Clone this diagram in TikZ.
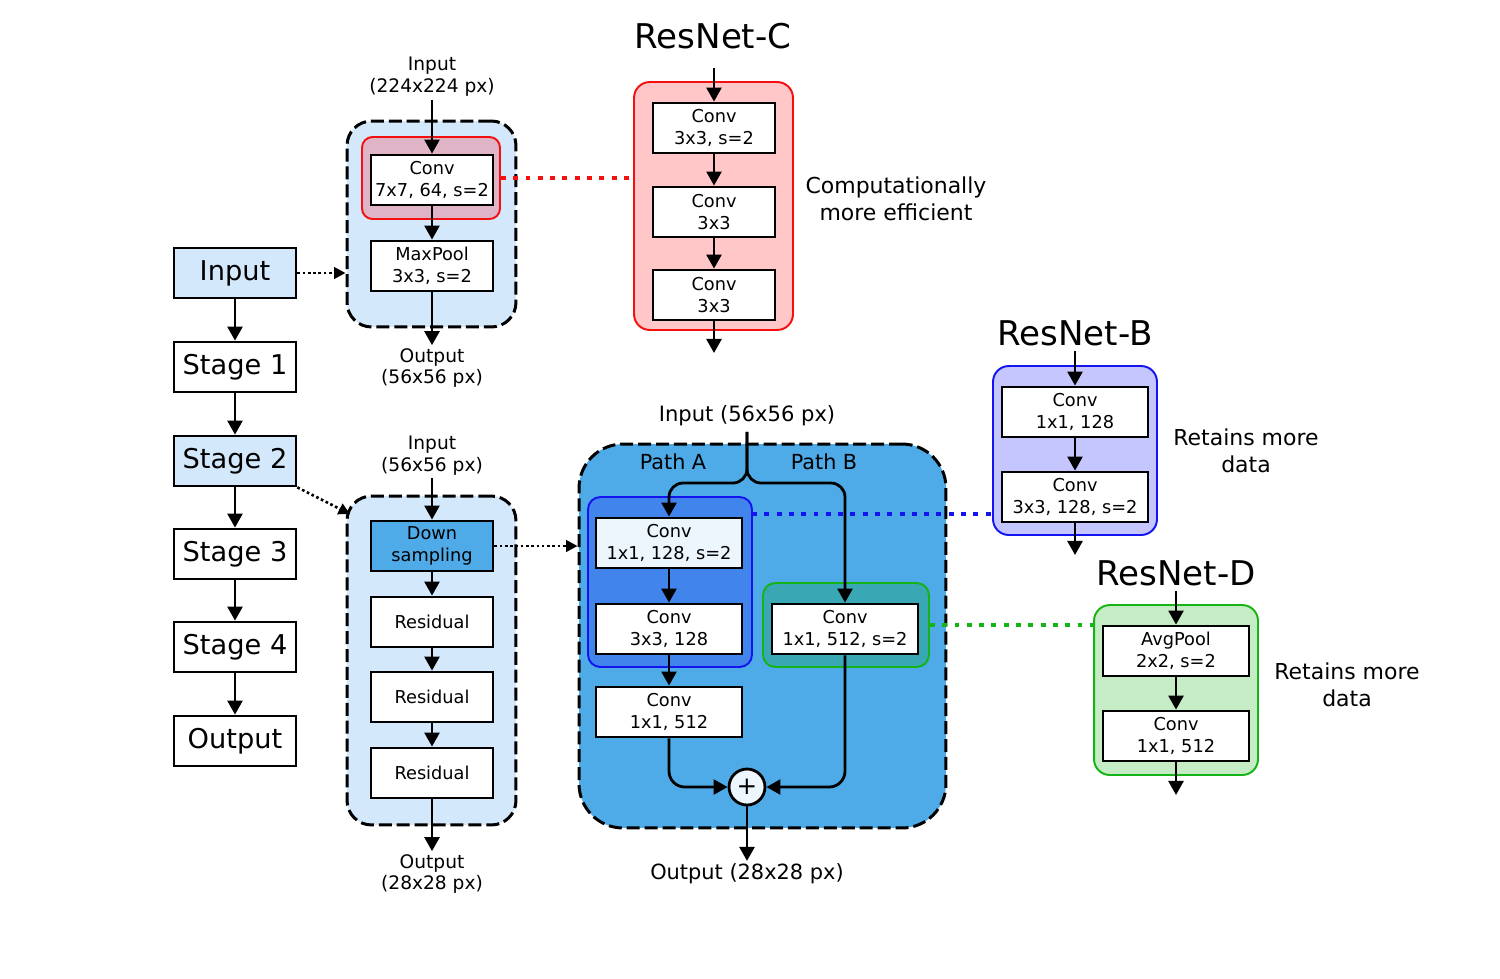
\documentclass[tikz,border=0pt]{standalone}
\usepackage{fontspec}
\setmainfont{DejaVu Sans}
\usetikzlibrary{arrows.meta}

\definecolor{stagefill}{RGB}{212,232,252}
\definecolor{pinkfill}{RGB}{222,180,198}
\definecolor{cfill}{RGB}{255,199,199}
\definecolor{midblue}{RGB}{78,171,231}
\definecolor{agrpfill}{RGB}{64,132,236}
\definecolor{dgrpfill}{RGB}{58,168,180}
\definecolor{lightfill}{RGB}{238,246,253}
\definecolor{bbfill}{RGB}{198,198,255}
\definecolor{ddfill}{RGB}{198,236,198}
\definecolor{redline}{RGB}{245,15,15}
\definecolor{blueline}{RGB}{20,20,240}
\definecolor{greenline}{RGB}{20,180,20}

\tikzset{
  blk/.style={draw, line width=1.6pt, fill=white, minimum width=2.44cm, minimum height=1cm,
    inner sep=0pt, align=center, font=\fontsize{10.1}{12.4}\selectfont},
  wide/.style={blk, minimum width=2.92cm},
  stage/.style={blk, font=\fontsize{15.5}{18}\selectfont},
  grp/.style={draw, line width=1.1pt, rounded corners=6pt, inner sep=0pt},
  dgroup/.style={draw, line width=1.7pt, dash pattern=on 7.4pt off 2.8pt, rounded corners=14pt, inner sep=0pt},
  arr/.style={-{Triangle[length=8pt,width=8.5pt]}, line width=1.6pt},
  dotarr/.style={-{Triangle[length=6.5pt,width=6.5pt]}, line width=1.5pt, dash pattern=on 1.5pt off 1.5pt},
  link/.style={line width=2.8pt, dash pattern=on 2.8pt off 4.2pt},
  lbl/.style={align=center, inner sep=1.5pt, font=\fontsize{10.6}{12.5}\selectfont},
  ttl/.style={inner sep=3pt, font=\fontsize{19.4}{22}\selectfont},
  note/.style={align=center, font=\fontsize{12.5}{15.4}\selectfont},
  plus/.style={circle, draw, line width=1.6pt, fill=lightfill, minimum size=0.72cm, inner sep=0pt,
    font=\fontsize{14}{14}\selectfont},
}

\begin{document}
\begin{tikzpicture}[x=0.02cm, y=-0.02cm]
\useasboundingbox (0,0) rectangle (1500,978);

% stages
\node[stage, fill=stagefill] (in) at (235,273) {Input};
\node[stage] (s1) at (235,367) {Stage 1};
\node[stage, fill=stagefill] (s2) at (235,461) {Stage 2};
\node[stage] (s3) at (235,554) {Stage 3};
\node[stage] (s4) at (235,647) {Stage 4};
\node[stage] (out) at (235,741) {Output};
\foreach \a/\b in {in/s1, s1/s2, s2/s3, s3/s4, s4/out}
  \draw[arr] (\a) -- (\b);

% stem
\node[dgroup, fill=stagefill, minimum width=3.38cm, minimum height=4.12cm] (stem) at (431.5,224) {};
\node[grp, draw=redline, fill=pinkfill, minimum width=2.76cm, minimum height=1.64cm] (stemc) at (431,178) {};
\node[blk] (c7) at (432,180) {Conv\\7x7, 64, s=2};
\node[blk] (mp) at (432,266) {MaxPool\\3x3, s=2};
\node[lbl] (stemin) at (432,77) {Input\\(224x224 px)};
\node[lbl] (stemout) at (432,368) {Output\\(56x56 px)};
\draw[arr] (stemin) -- (c7);
\draw[arr] (c7) -- (mp);
\draw[arr] (mp) -- (stemout);

% ResNet-C
\node[ttl] (ttlc) at (713,36) {ResNet-C};
\node[grp, draw=redline, fill=cfill, minimum width=3.18cm, minimum height=4.96cm, rounded corners=9pt] (cgrp) at (713.5,206) {};
\node[blk] (cc1) at (714,128) {Conv\\3x3, s=2};
\node[blk] (cc2) at (714,212) {Conv\\3x3};
\node[blk] (cc3) at (714,295) {Conv\\3x3};
\coordinate (cin) at (714,68);
\coordinate (cout) at (714,353);
\draw[arr] (cin) -- (cc1);
\draw[arr] (cc1) -- (cc2);
\draw[arr] (cc2) -- (cc3);
\draw[arr] (cc3) -- (cout);
\node[note] (cnote) at (896,199) {Computationally\\ more efficient};

% stage 2
\node[dgroup, fill=stagefill, minimum width=3.38cm, minimum height=6.58cm] (s2grp) at (431.5,660.5) {};
\node[blk, fill=midblue] (ds) at (432,546) {Down\\sampling};
\node[blk] (r1) at (432,622) {Residual};
\node[blk] (r2) at (432,697) {Residual};
\node[blk] (r3) at (432,773) {Residual};
\node[lbl] (s2in) at (432,455.5) {Input\\(56x56 px)};
\node[lbl] (s2out) at (432,874) {Output\\(28x28 px)};
\foreach \a/\b in {s2in/ds, ds/r1, r1/r2, r2/r3, r3/s2out}
  \draw[arr] (\a) -- (\b);

% bottleneck
\node[dgroup, fill=midblue, minimum width=7.34cm, minimum height=7.68cm, rounded corners=25pt] (bgrp) at (762.5,636) {};
\node[lbl, font=\fontsize{12}{13}\selectfont, inner sep=3pt] (bin) at (747,416) {Input (56x56 px)};
\node[lbl, font=\fontsize{11.8}{13}\selectfont] (pa) at (673,462) {Path A};
\node[lbl, font=\fontsize{11.8}{13}\selectfont] (pb) at (824,462) {Path B};
\node[grp, draw=blueline, fill=agrpfill, minimum width=3.28cm, minimum height=3.4cm, rounded corners=7pt] (agrp) at (670,582) {};
\node[grp, draw=greenline, fill=dgrpfill, minimum width=3.32cm, minimum height=1.68cm, rounded corners=7pt] (dgrp) at (846,625) {};
\node[wide, fill=lightfill] (a1) at (669,543) {Conv\\1x1, 128, s=2};
\node[wide] (a2) at (669,629) {Conv\\3x3, 128};
\node[wide] (a3) at (669,712) {Conv\\1x1, 512};
\node[wide] (b1) at (845,629) {Conv\\1x1, 512, s=2};
\node[plus] (add) at (747,787) {+};
\node[lbl, font=\fontsize{11.9}{13}\selectfont] (bout) at (747,874) {Output (28x28 px)};
\coordinate (split) at (747,483);
\draw[arr, rounded corners=8pt] (bin) -- (split) -| (a1);
\draw[arr, rounded corners=8pt] (bin) -- (split) -| (b1);
\draw[arr] (a1) -- (a2);
\draw[arr] (a2) -- (a3);
\draw[arr, rounded corners=9pt] (a3) |- (add);
\draw[arr, rounded corners=9pt] (b1) |- (add);
\draw[arr] (add) -- (bout);

% ResNet-B
\node[ttl] (ttlb) at (1075,333) {ResNet-B};
\node[grp, draw=blueline, fill=bbfill, minimum width=3.28cm, minimum height=3.38cm, rounded corners=9pt] (bbgrp) at (1075,450.5) {};
\node[wide] (bb1) at (1075,412) {Conv\\1x1, 128};
\node[wide] (bb2) at (1075,497) {Conv\\3x3, 128, s=2};
\coordinate (bbout) at (1075,555);
\draw[arr] (ttlb) -- (bb1);
\draw[arr] (bb1) -- (bb2);
\draw[arr] (bb2) -- (bbout);
\node[note] (bnote) at (1246,450.5) {Retains more\\data};

% ResNet-D
\node[ttl] (ttld) at (1176,573) {ResNet-D};
\node[grp, draw=greenline, fill=ddfill, minimum width=3.28cm, minimum height=3.4cm, rounded corners=9pt] (ddgrp) at (1176,690) {};
\node[wide] (dd1) at (1176,651) {AvgPool\\2x2, s=2};
\node[wide] (dd2) at (1176,736) {Conv\\1x1, 512};
\coordinate (ddout) at (1176,795);
\draw[arr] (ttld) -- (dd1);
\draw[arr] (dd1) -- (dd2);
\draw[arr] (dd2) -- (ddout);
\node[note] (dnote) at (1347,684.5) {Retains more\\data};

% links between the parts
\coordinate (s2tip) at (350,514);
\coordinate (bdot) at (752,514);
\draw[dotarr] (in) -- (in -| stem.west);
\draw[dotarr] (s2.south east) -- (s2tip);
\draw[dotarr] (ds) -- (ds -| bgrp.west);
\draw[link, redline] (stemc) -- (stemc -| cgrp.west);
\draw[link, blueline] (bdot) -- (bdot -| bbgrp.west);
\draw[link, greenline] (dgrp) -- (dgrp -| ddgrp.west);
\end{tikzpicture}
\end{document}
